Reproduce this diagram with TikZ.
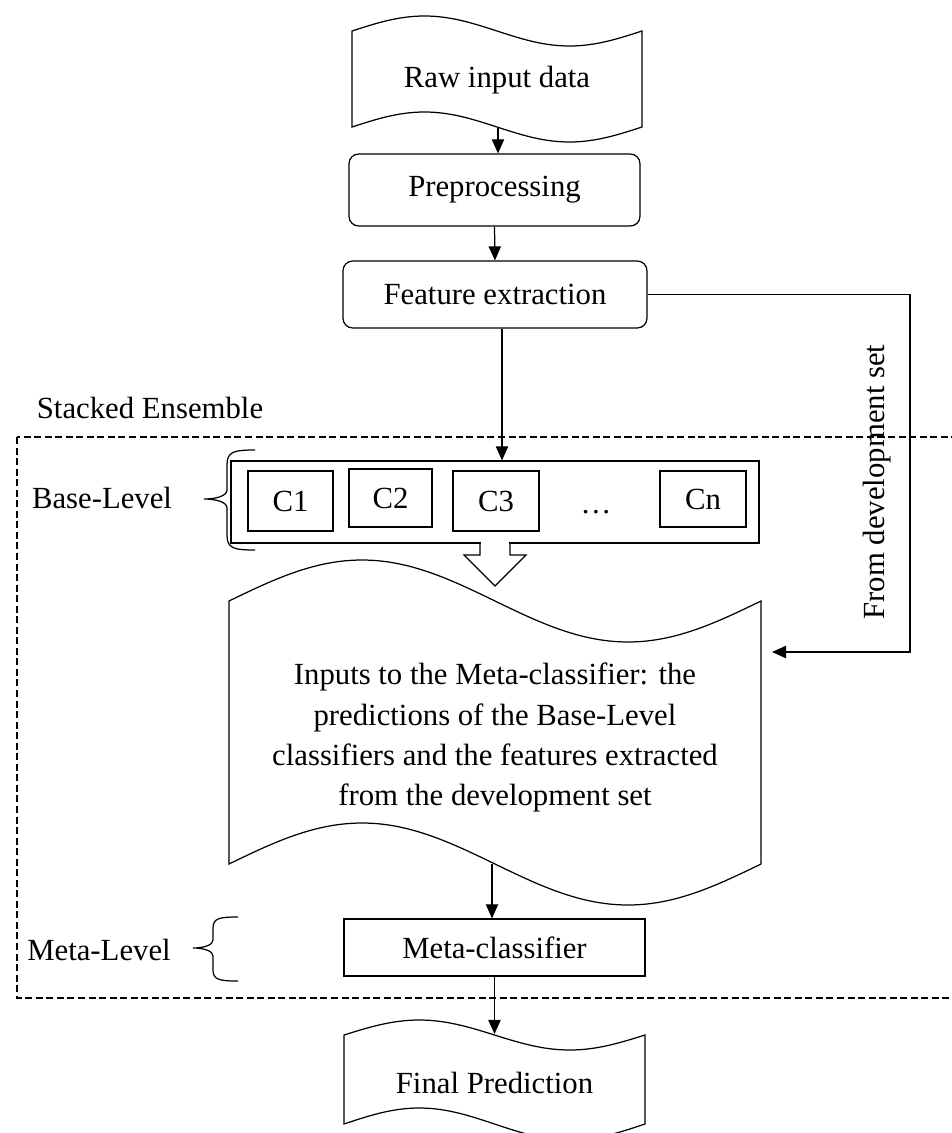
\documentclass[tikz,border=0pt]{standalone}
\usepackage{fontspec}
\setmainfont{Liberation Serif}
\usepackage{tikz}
\usetikzlibrary{arrows.meta, positioning}

% punched tape outline: left, right, top, top amplitude, bottom, bottom amplitude
\newcommand{\tapeshape}[6]{%
  \draw (#1,#3) sin ({#1+(#2-#1)/4},{#3-#4}) cos ({(#1+#2)/2},#3)
        sin ({#1+3*(#2-#1)/4},{#3+#4}) cos (#2,#3) -- (#2,#5)
        sin ({#2-(#2-#1)/4},{#5+#6}) cos ({(#1+#2)/2},#5)
        sin ({#2-3*(#2-#1)/4},{#5-#6}) cos (#1,#5) -- cycle;}

\begin{document}
\begin{tikzpicture}[x=0.02cm, y=-0.02cm, line width=0.7pt,
    every node/.style={font=\fontsize{17.5pt}{22.8pt}\selectfont},
    rbox/.style={rectangle, rounded corners=5.5pt, draw, inner sep=0pt},
    box/.style={rectangle, draw, inner sep=0pt},
    clf/.style={rectangle, draw, inner sep=0pt, minimum width=1.7cm, minimum height=1.2cm},
    arr/.style={-{Triangle[length=8pt, width=7pt]}}]

    \useasboundingbox (0,0) rectangle (951,1133);

    % input side
    \tapeshape{352}{642}{31}{15}{127}{15}
    \node (raw) at (497,80) {Raw input data};
    \coordinate (rawb) at (498,128);
    \node[rbox, minimum width=5.82cm, minimum height=1.44cm] (pre) at (494.5,190) {Preprocessing};
    \node[rbox, minimum width=6.08cm, minimum height=1.34cm] (feat) at (495,294.5) {Feature extraction};

    % stacked ensemble
    \node (stack) at (150,408) {Stacked Ensemble};
    \draw[dash pattern=on 4pt off 2pt] (17,437) rectangle (965,998);

    \node[box, minimum width=10.56cm, minimum height=1.64cm] (base) at (495,502) {};
    \node[clf] (c1) at (290.5,501) {C1};
    \node[clf, minimum width=1.66cm, minimum height=1.16cm] (c2) at (390.5,498) {C2};
    \node[clf, minimum width=1.72cm] (c3) at (496,501) {C3};
    \node (dots) at (596,512) {\ldots};
    \node[clf, minimum width=1.72cm, minimum height=1.12cm] (cn) at (703,499) {Cn};

    \node (baselbl) at (102,498) {Base-Level};
    \draw (255,450) .. controls (233,450) and (227,452) .. (227,465) -- (227,490)
        .. controls (227,496) and (216,499) .. (204,499)
        .. controls (216,499) and (227,502) .. (227,508) -- (227,535)
        .. controls (227,548) and (233,550) .. (255,550);

    % hollow arrow
    \fill[white] (481,540) rectangle (509,556);
    \draw (480,543) -- (480,555) -- (464,555) -- (495,586) -- (526,555) -- (510,555) -- (510,543);

    \tapeshape{229}{761}{601}{41}{864}{41}
    \node[align=center] (inputs) at (495,737.5) {Inputs to the Meta-classifier: the\\predictions of the Base-Level\\classifiers and the features extracted\\from the development set};
    \coordinate (inb) at (492,864);
    \coordinate (devin) at (772,652);
    \coordinate (devcorner) at (910,652);

    \node[box, minimum width=6.02cm, minimum height=1.14cm] (meta) at (494.5,947.5) {Meta-classifier};
    \node (metalbl) at (99,950) {Meta-Level};
    \draw (238,917) .. controls (220,917) and (213,918) .. (213,928) -- (213,940)
        .. controls (213,945) and (204,948) .. (193,948)
        .. controls (204,948) and (213,951) .. (213,956) -- (213,970)
        .. controls (213,980) and (220,981) .. (238,981);

    % output
    \tapeshape{344}{645}{1035}{15}{1124}{16}
    \node (final) at (494.5,1083) {Final Prediction};
    \coordinate (fint) at (494.5,1034);

    \node[rotate=90] (devlbl) at (877,482) {From development set};

    \draw[arr] (rawb) -- (rawb |- pre.north);
    \draw[arr] (pre.south) -- (feat.north);
    \draw[arr] ([xshift=0.14cm]feat.south) -- ([xshift=0.14cm]feat.south |- base.north);
    \draw[arr] (feat.east) -| (devcorner) -- (devin);
    \draw[arr] (inb) -- (inb |- meta.north);
    \draw[arr] (meta.south) -- (fint);

\end{tikzpicture}
\end{document}
